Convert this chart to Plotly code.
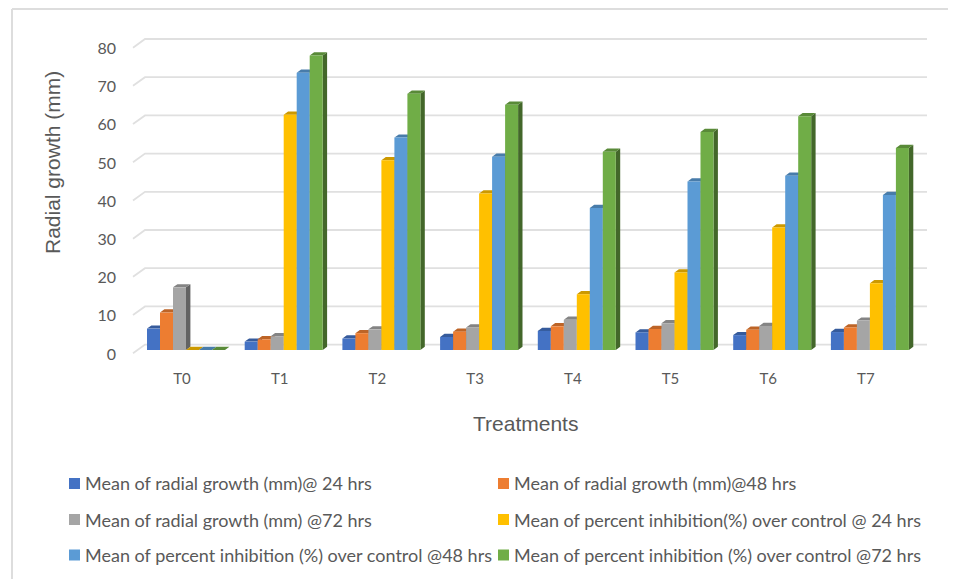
import plotly.graph_objects as go

categories = ["T0", "T1", "T2", "T3", "T4", "T5", "T6", "T7"]
growth_24 = [5.6, 2.2, 3.0, 3.4, 5.0, 4.6, 3.9, 4.7]
growth_48 = [9.8, 2.8, 4.4, 4.8, 6.2, 5.5, 5.3, 5.9]
growth_72 = [16.4, 3.6, 5.4, 5.9, 7.9, 7.0, 6.3, 7.7]
inhib_24 = [0, 61.6, 49.7, 41.0, 14.6, 20.3, 32.1, 17.5]
inhib_48 = [0, 72.6, 55.6, 50.6, 37.2, 44.1, 45.6, 40.6]
inhib_72 = [0, 77.1, 67.1, 64.2, 51.9, 57.1, 61.2, 52.9]
series_names = [
    "Mean of radial growth (mm)@ 24 hrs",
    "Mean of radial growth (mm)@48 hrs",
    "Mean of radial growth (mm) @72 hrs",
    "Mean of percent inhibition(%) over control @ 24 hrs",
    "Mean of percent inhibition (%) over control @48 hrs",
    "Mean of percent inhibition (%) over control @72 hrs",
]
series_values = [growth_24, growth_48, growth_72, inhib_24, inhib_48, inhib_72]
colors = ["#4472C4", "#ED7D31", "#A5A5A5", "#FFC000", "#5B9BD5", "#70AD47"]
y_ticks = [0, 10, 20, 30, 40, 50, 60, 70, 80]

PAGE = 8  # browser body margin; all positions below are page pixels
W, H = 956 - PAGE, 579 - PAGE
L, R, T, B = 117, 950, 20, 362   # plot area, page pixels
STEP = 97.7
X0 = 186
UNIT = 3.82
Y0 = 350
BAR = 13 / STEP
DX = 4.4 / STEP
DY = 3.2 / UNIT
GRID_BACK = 5.4 / UNIT
GRID_FRONT = -0.85
GRID_X1 = (145 - X0) / STEP
GRID_X0 = (133 - X0) / STEP
GRID_X2 = (927 - X0) / STEP


def shade(hex_color, f):
    r, g, b = [int(hex_color[i:i + 2], 16) for i in (1, 3, 5)]
    return f"rgb({int(r * f)},{int(g * f)},{int(b * f)})"


def px(x):
    return (x - L) / (R - L)


def py(y):
    return (B - y) / (B - T)


xr = [(L - X0) / STEP, (R - X0) / STEP]
yr = [(Y0 - B) / UNIT, (Y0 - T) / UNIT]

fig = go.Figure()

gx, gy = [], []
for v in y_ticks:
    gx += [GRID_X0, GRID_X1, GRID_X2, None]
    gy += [v + GRID_FRONT, v + GRID_BACK, v + GRID_BACK, None]
fig.add_trace(go.Scatter(x=gx, y=gy, mode="lines", showlegend=False, hoverinfo="skip",
                         line=dict(color="#E0E0E0", width=1.8)))

for k, (vals, col) in enumerate(zip(series_values, colors)):
    offset = (k - 3) * BAR
    sx, sy, tx, ty = [], [], [], []
    for i, v in enumerate(vals):
        a = i + offset
        b = a + BAR
        sx += [b, b, b + DX, b + DX, b, None]
        sy += [0, v, v + DY, DY, 0, None]
        tx += [a, b, b + DX, a + DX, a, None]
        ty += [v, v, v + DY, v + DY, v, None]
    fig.add_trace(go.Scatter(x=sx, y=sy, mode="lines", fill="toself", fillcolor=shade(col, 0.6),
                             line=dict(width=0, color=shade(col, 0.6)), showlegend=False, hoverinfo="skip"))
    fig.add_trace(go.Scatter(x=tx, y=ty, mode="lines", fill="toself", fillcolor=shade(col, 0.8),
                             line=dict(width=0, color=shade(col, 0.8)), showlegend=False, hoverinfo="skip"))

for k, (name, vals, col) in enumerate(zip(series_names, series_values, colors)):
    fig.add_trace(go.Bar(x=list(range(len(categories))), y=vals, name=name, width=BAR,
                         offset=(k - 3) * BAR, marker=dict(color=col, line=dict(width=0)),
                         xaxis="x2", yaxis="y2"))

annotations = [
    dict(text="Radial growth (mm)", xref="paper", yref="paper", x=px(52), y=py(163), showarrow=False,
         textangle=-90, font=dict(family="Liberation Sans", size=21, color="#595959"),
         xanchor="center", yanchor="middle"),
    dict(text="Treatments", xref="paper", yref="paper", x=px(525), y=py(423), showarrow=False,
         font=dict(family="Liberation Sans", size=21, color="#595959"),
         xanchor="center", yanchor="middle"),
]
shapes = [
    dict(type="line", xref="paper", yref="paper", x0=px(12), x1=px(956), y0=py(9), y1=py(9),
         line=dict(color="#DDDDDD", width=2)),
    dict(type="line", xref="paper", yref="paper", x0=px(12), x1=px(12), y0=py(9), y1=py(579),
         line=dict(color="#DDDDDD", width=2)),
]
col_x = [69, 498]
row_y = [483.5, 519.5, 555]
for k, (name, col) in enumerate(zip(series_names, colors)):
    cx = col_x[k % 2]
    ry = row_y[k // 2]
    shapes.append(dict(type="rect", xref="paper", yref="paper", x0=px(cx), x1=px(cx + 11),
                       y0=py(ry - 5.5), y1=py(ry + 5.5), fillcolor=col, line=dict(width=0)))
    annotations.append(dict(text=name, xref="paper", yref="paper", x=px(cx + 15), y=py(ry),
                            showarrow=False, xanchor="left", yanchor="middle", align="left",
                            font=dict(family="Lato", size=18, color="#595959"), borderpad=0))

fig.update_layout(
    width=W, height=H, autosize=False,
    margin=dict(l=L - PAGE, r=956 - R, t=T - PAGE, b=579 - B, pad=0),
    paper_bgcolor="white", plot_bgcolor="rgba(0,0,0,0)",
    showlegend=False, barmode="overlay",
    shapes=shapes, annotations=annotations,
    xaxis=dict(range=xr, tickmode="array", tickvals=list(range(len(categories))), ticktext=categories,
               showgrid=False, zeroline=False, showline=False, ticks="",
               tickfont=dict(family="Lato", size=15, color="#595959"),
               ticklabelshift=-4, ticklabelstandoff=6),
    yaxis=dict(range=yr, tickmode="array", tickvals=y_ticks, showgrid=False, zeroline=False,
               showline=False, ticks="", tickfont=dict(family="Lato", size=16, color="#595959"),
               ticklabelshift=4),
    xaxis2=dict(range=xr, overlaying="x", visible=False),
    yaxis2=dict(range=yr, overlaying="y", visible=False),
)
fig.write_html("out.html")
